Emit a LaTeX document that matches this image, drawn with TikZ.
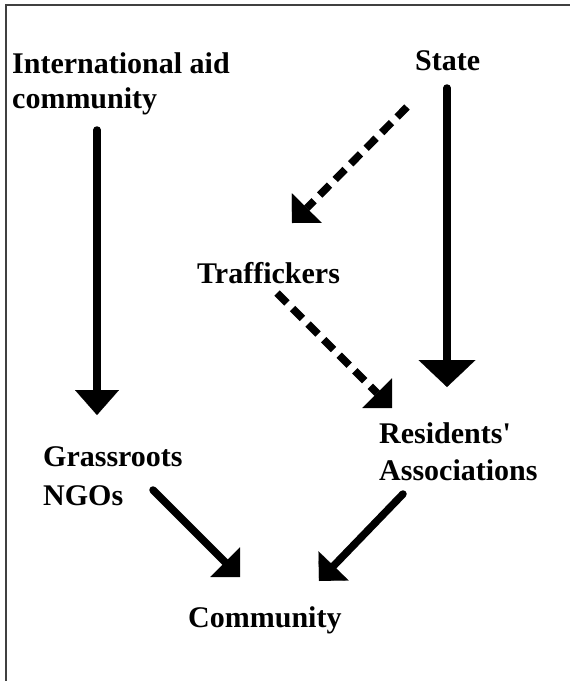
\documentclass[tikz,border=0pt]{standalone}
\usepackage{fontspec}
\setmainfont{Liberation Serif}
\usetikzlibrary{arrows.meta,calc}
\begin{document}
\begin{tikzpicture}[x=1pt,y=-1pt,
  lbl/.style={inner sep=0pt, anchor=base west, align=left, font=\fontsize{30}{37}\selectfont\bfseries},
  solidarrow/.style={line width=7.5pt, line cap=round},
  dasharrow/.style={line width=7.5pt, dash pattern=on 14pt off 8pt, -{Triangle[length=21pt, width=42pt, line width=0.1pt]}},
  diagarrow/.style={line width=7.5pt, line cap=round, -{Triangle[length=21pt, width=42pt, line width=0.1pt]}}
]
\useasboundingbox (0,0) rectangle (570,681);
\fill[white] (0,0) rectangle (570,681);
\draw[line width=1.5pt, black!75] (6,681) -- (6,5) -- (570,5);

% multi-line nodes: base west = baseline of the last line
\node[lbl, font=\fontsize{30}{35}\selectfont\bfseries] (intl) at (12,108) {International aid\\community};
\node[lbl] (state) at (415,70) {State};
\node[lbl] (traf) at (197,283) {Traffickers};
\node[lbl, font=\fontsize{30}{39}\selectfont\bfseries] (ngos) at (43,505) {Grassroots\\NGOs};
\node[lbl] (resid) at (379,480) {Residents\textquotesingle\\Associations};
\node[lbl] (comm) at (188,627) {Community};

\draw[solidarrow, -{Triangle[length=25pt, width=44pt, line width=0.1pt]}]
  ([shift={(85,22)}]intl.base west) -- ([shift={(54,-90)}]ngos.base west);
\draw[solidarrow, -{Triangle[length=27pt, width=57pt, line width=0.1pt]}]
  ([shift={(32,18)}]state.base west) -- ([shift={(68,-93)}]resid.base west);
\draw[dasharrow] ([shift={(-8,37)}]state.base west) -- ([shift={(95,-60)}]traf.base west);
\draw[dasharrow] ([shift={(80,10)}]traf.base west) -- ([shift={(13,-72)}]resid.base west);
\draw[diagarrow] ([shift={(110,-15)}]ngos.base west) -- ([shift={(52,-50)}]comm.base west);
\draw[diagarrow] ([shift={(24,14)}]resid.base west) -- ([shift={(131,-46)}]comm.base west);
\end{tikzpicture}
\end{document}
